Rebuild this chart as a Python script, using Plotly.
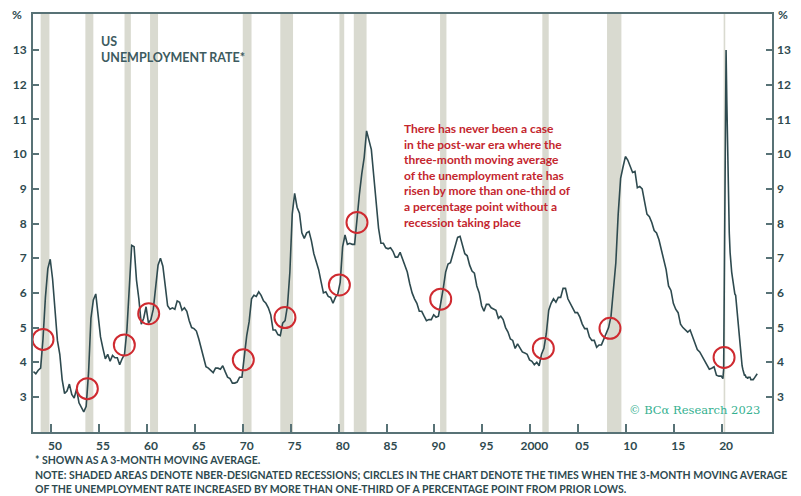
import plotly.graph_objects as go

# ---------------- data ----------------
# 3-month moving average of the US unemployment rate (%), sampled at quarter-end months
years = list(range(1948, 2020))
quarterly_ma = [
    [3.73, 3.67, 3.77, 3.83], [4.67, 5.87, 6.70, 6.97], [6.40, 5.57, 4.63, 4.23],
    [3.50, 3.10, 3.17, 3.37], [3.07, 2.97, 3.23, 2.83], [2.70, 2.57, 2.73, 3.70],
    [5.27, 5.80, 5.97, 5.33], [4.73, 4.40, 4.10, 4.23], [4.03, 4.20, 4.13, 4.13],
    [3.93, 4.10, 4.23, 4.93], [6.30, 7.37, 7.33, 6.37], [5.83, 5.10, 5.27, 5.60],
    [5.13, 5.23, 5.53, 6.27], [6.80, 7.00, 6.77, 6.20], [5.63, 5.53, 5.57, 5.53],
    [5.77, 5.73, 5.50, 5.57], [5.47, 5.20, 5.00, 4.97], [4.90, 4.67, 4.37, 4.10],
    [3.87, 3.83, 3.77, 3.70], [3.83, 3.83, 3.80, 3.90], [3.73, 3.57, 3.53, 3.40],
    [3.40, 3.43, 3.57, 3.57], [4.17, 4.77, 5.17, 5.83], [5.93, 5.90, 6.03, 5.93],
    [5.77, 5.70, 5.57, 5.37], [4.93, 4.93, 4.80, 4.77], [5.13, 5.20, 5.63, 6.60],
    [8.27, 8.87, 8.47, 8.30], [7.73, 7.57, 7.73, 7.77], [7.50, 7.13, 6.90, 6.67],
    [6.33, 6.00, 6.03, 5.90], [5.87, 5.70, 5.87, 5.97], [6.30, 7.33, 7.67, 7.40],
    [7.43, 7.40, 7.40, 8.23], [8.83, 9.43, 9.90, 10.67], [10.37, 10.13, 9.37, 8.53],
    [7.87, 7.43, 7.43, 7.30], [7.27, 7.30, 7.20, 7.03], [7.03, 7.17, 6.97, 6.83],
    [6.60, 6.27, 6.00, 5.83], [5.70, 5.47, 5.47, 5.33], [5.20, 5.23, 5.23, 5.37],
    [5.30, 5.33, 5.70, 6.13], [6.60, 6.83, 6.87, 7.10], [7.37, 7.60, 7.63, 7.37],
    [7.13, 7.07, 6.80, 6.63], [6.57, 6.20, 6.00, 5.63], [5.47, 5.67, 5.67, 5.57],
    [5.53, 5.50, 5.27, 5.33], [5.23, 5.00, 4.87, 4.67], [4.63, 4.40, 4.53, 4.43],
    [4.30, 4.27, 4.23, 4.07], [4.03, 3.93, 4.00, 3.90], [4.23, 4.40, 4.83, 5.50],
    [5.70, 5.83, 5.73, 5.87], [5.87, 6.13, 6.13, 5.83], [5.70, 5.60, 5.43, 5.43],
    [5.30, 5.10, 4.97, 4.97], [4.73, 4.63, 4.63, 4.43], [4.50, 4.50, 4.67, 4.83],
    [5.00, 5.33, 6.00, 6.87], [8.27, 9.30, 9.63, 9.93], [9.83, 9.63, 9.47, 9.50],
    [9.03, 9.07, 9.00, 8.63], [8.27, 8.20, 8.03, 7.80], [7.73, 7.53, 7.23, 6.93],
    [6.67, 6.20, 6.07, 5.70], [5.53, 5.43, 5.10, 5.00], [4.93, 4.87, 4.93, 4.73],
    [4.57, 4.37, 4.30, 4.17], [4.03, 3.93, 3.80, 3.83], [3.87, 3.63, 3.60, 3.60],
]
# monthly 3-month moving average from 2020 onward
monthly_dates = [
    "2020-01-01", "2020-02-01", "2020-03-01", "2020-04-01", "2020-05-01", "2020-06-01",
    "2020-07-01", "2020-08-01", "2020-09-01", "2020-10-01", "2020-11-01", "2020-12-01",
    "2021-01-01", "2021-02-01", "2021-03-01", "2021-04-01", "2021-05-01", "2021-06-01",
    "2021-07-01", "2021-08-01", "2021-09-01", "2021-10-01", "2021-11-01", "2021-12-01",
    "2022-01-01", "2022-02-01", "2022-03-01", "2022-04-01", "2022-05-01", "2022-06-01",
    "2022-07-01", "2022-08-01", "2022-09-01", "2022-10-01", "2022-11-01", "2022-12-01",
    "2023-01-01", "2023-02-01", "2023-03-01", "2023-04-01", "2023-05-01", "2023-06-01",
    "2023-07-01", "2023-08-01", "2023-09-01",
]
monthly_ma = [
    3.57, 3.53, 3.80, 7.57, 10.80, 13.00, 11.47, 9.87, 8.83, 7.73, 7.17, 6.77,
    6.60, 6.43, 6.23, 6.10, 5.97, 5.93, 5.67, 5.43, 5.13, 4.83, 4.50, 4.20,
    4.03, 3.90, 3.80, 3.70, 3.63, 3.63, 3.57, 3.57, 3.53, 3.57, 3.57, 3.57,
    3.50, 3.50, 3.50, 3.50, 3.53, 3.57, 3.60, 3.63, 3.67,
]

# NBER recessions (first month of contraction, month after trough)
rec_start = ["1948-12-01", "1953-08-01", "1957-09-01", "1960-05-01", "1970-01-01", "1973-12-01",
             "1980-02-01", "1981-08-01", "1990-08-01", "2001-04-01", "2008-01-01", "2020-03-01"]
rec_end = ["1949-11-01", "1954-06-01", "1958-05-01", "1961-03-01", "1970-12-01", "1975-04-01",
           "1980-08-01", "1982-12-01", "1991-04-01", "2001-12-01", "2009-07-01", "2020-05-01"]

# circles: times the 3m MA rose by > 1/3 pp from prior lows
circle_dates = ["1949-03-01", "1953-10-15", "1957-08-25", "1960-03-10", "1970-01-22", "1974-05-28",
                "1980-01-30", "1981-12-01", "1990-08-25", "2001-05-10", "2008-04-22", "2020-03-17"]
circle_values = [4.66, 3.24, 4.50, 5.40, 4.07, 5.29, 6.23, 8.03, 5.82, 4.40, 4.98, 4.14]

x_tickvals = ["1950-01-01", "1955-01-01", "1960-01-01", "1965-01-01", "1970-01-01", "1975-01-01",
              "1980-01-01", "1985-01-01", "1990-01-01", "1995-01-01", "2000-01-01", "2005-01-01",
              "2010-01-01", "2015-01-01", "2020-01-01"]
x_ticktext = ["50", "55", "60", "65", "70", "75", "80", "85", "90", "95", "2000", "05", "10", "15", "20"]
y_tickvals = [3, 4, 5, 6, 7, 8, 9, 10, 11, 12, 13]

# ---------------- build ----------------
line_x, line_y = [], []
for yr, vals in zip(years, quarterly_ma):
    for m, v in zip([3, 6, 9, 12], vals):
        line_x.append(f"{yr}-{m:02d}-01")
        line_y.append(v)
line_x += monthly_dates
line_y += monthly_ma

DARK = "#2e4a4f"
AXIS = "#587276"
RED = "#cf2a30"
FONT = "Lato"

fig = go.Figure()
fig.add_trace(go.Scatter(x=line_x, y=line_y, mode="lines",
                         line=dict(color=DARK, width=1.6), hoverinfo="skip", showlegend=False))
fig.add_trace(go.Scatter(x=circle_dates, y=circle_values, mode="markers",
                         marker=dict(symbol="circle-open", size=21, color=RED, line=dict(width=2, color=RED)),
                         showlegend=False, hoverinfo="skip"))
# invisible trace for right axis
fig.add_trace(go.Scatter(x=[line_x[0]], y=[line_y[0]], yaxis="y2", mode="markers",
                         marker=dict(opacity=0), showlegend=False, hoverinfo="skip"))

for s, e in zip(rec_start, rec_end):
    fig.add_shape(type="rect", xref="x", yref="paper", x0=s, x1=e, y0=0, y1=1,
                  fillcolor="#d9dad0", line=dict(width=0), layer="below")

yr_range = [1.99, 14.04]
tickfont = dict(family=FONT, size=12, color=DARK, weight=700)

# page has an 8px body margin: the figure is sized so that it ends at the window edge
fig.update_layout(
    width=793, height=488,
    margin=dict(l=25, r=29, t=6, b=64, autoexpand=False),
    paper_bgcolor="white", plot_bgcolor="white",
    xaxis=dict(type="date", range=["1948-02-14", "2025-03-17"],
               tickvals=x_tickvals, ticktext=x_ticktext,
               ticks="inside", ticklen=8, tickwidth=1.5, tickcolor=AXIS,
               showline=True, linecolor=AXIS, linewidth=2, mirror=True,
               showgrid=False, zeroline=False, tickfont=tickfont,
               ticklabelshift=4, ticklabelstandoff=2),
    yaxis=dict(range=yr_range, tickvals=y_tickvals,
               ticks="inside", ticklen=6, tickwidth=1.5, tickcolor=AXIS,
               showline=True, linecolor=AXIS, linewidth=2, mirror=True,
               showgrid=False, zeroline=False, tickfont=tickfont, ticklabelstandoff=2),
    yaxis2=dict(range=yr_range, tickvals=y_tickvals, overlaying="y", side="right",
                ticks="inside", ticklen=6, tickwidth=1.5, tickcolor=AXIS,
                showline=False, showgrid=False, zeroline=False, tickfont=tickfont,
                ticklabelstandoff=4),
)

ann = []
ann.append(dict(text="%", xref="paper", yref="paper", x=-0.012, y=1.0, xanchor="right", yanchor="middle",
                showarrow=False, font=dict(family=FONT, size=12, color=DARK, weight=700)))
ann.append(dict(text="%", xref="paper", yref="paper", x=1.006, y=1.0, xanchor="left", yanchor="middle",
                showarrow=False, font=dict(family=FONT, size=12, color=DARK, weight=700)))
ann.append(dict(text="US<br>UNEMPLOYMENT RATE*", xref="paper", yref="paper",
                x=(99 - 33) / 739, y=1 - (32 - 14) / 418, xanchor="left", yanchor="top", align="left",
                showarrow=False, font=dict(family=FONT, size=12.5, color="#3d5b60", weight=700)))
ann.append(dict(text=("There has never been a case<br>in the post-war era where the<br>"
                      "three-month moving average<br>of the unemployment rate has<br>"
                      "risen by more than one-third of<br>a percentage point without a<br>"
                      "recession taking place"),
                xref="paper", yref="paper", x=(402 - 33) / 739, y=1 - (119 - 14) / 418,
                xanchor="left", yanchor="top", align="left", showarrow=False,
                font=dict(family=FONT, size=12, color="#c4262e", weight=700)))
ann.append(dict(text="© BCα Research 2023", xref="paper", yref="paper",
                x=(762 - 33) / 739, y=1 - (410 - 14) / 418, xanchor="right", yanchor="middle",
                showarrow=False, font=dict(family="DejaVu Serif", size=11.5, color="#34b08f")))
foot = dict(family=FONT, size=10.5, color=DARK, weight=700)
ann.append(dict(text="* SHOWN AS A 3-MONTH MOVING AVERAGE.", xref="paper", yref="paper",
                x=0, y=1 - (460 - 14) / 418, xanchor="left", yanchor="middle", showarrow=False, font=foot))
ann.append(dict(text=("NOTE: SHADED AREAS DENOTE NBER-DESIGNATED RECESSIONS; CIRCLES IN THE CHART DENOTE "
                      "THE TIMES WHEN THE 3-MONTH MOVING AVERAGE"), xref="paper", yref="paper",
                x=0, y=1 - (475 - 14) / 418, xanchor="left", yanchor="middle", showarrow=False, font=foot))
ann.append(dict(text="OF THE UNEMPLOYMENT RATE INCREASED BY MORE THAN ONE-THIRD OF A PERCENTAGE POINT FROM PRIOR LOWS.",
                xref="paper", yref="paper",
                x=0, y=1 - (489 - 14) / 418, xanchor="left", yanchor="middle", showarrow=False, font=foot))
fig.update_layout(annotations=ann)

fig.write_html("out.html")
